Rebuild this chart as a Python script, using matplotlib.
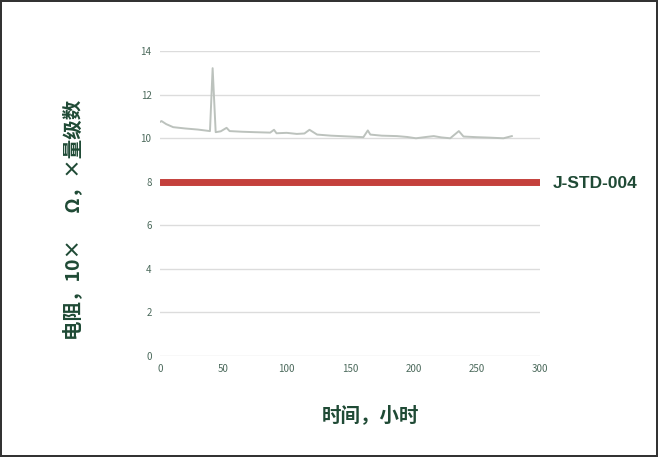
import matplotlib
matplotlib.use('Agg')
import matplotlib.pyplot as plt

plt.rcParams['font.family'] = ['Noto Sans CJK SC', 'DejaVu Sans']

# measured resistance trace (log10 ohm) vs time in hours
hours = [0, 1.3, 5, 10.5, 20, 30, 39.5, 41.6, 44, 48, 52.6, 55, 65, 75, 87, 90, 92, 100, 108,
         114, 118, 124, 135, 150, 160.5, 164, 166, 175, 187, 195, 202, 210, 216, 222, 229,
         235.8, 239.5, 250, 260, 271, 277.6]
resistance = [10.75, 10.79, 10.65, 10.51, 10.45, 10.4, 10.33, 13.22, 10.28, 10.32, 10.48, 10.33,
              10.3, 10.28, 10.26, 10.39, 10.23, 10.25, 10.2, 10.22, 10.39, 10.17, 10.12, 10.08,
              10.05, 10.36, 10.17, 10.12, 10.1, 10.06, 10.0, 10.06, 10.1, 10.04, 10.0, 10.33,
              10.08, 10.05, 10.03, 10.0, 10.1]
limit_x = [0, 300]
limit_y = [8, 8]
limit_label = 'J-STD-004'
xticks = [0, 50, 100, 150, 200, 250, 300]
yticks = [0, 2, 4, 6, 8, 10, 12, 14]

txt = '#1f4a35'
fig = plt.figure(figsize=(6.58, 4.57), dpi=100)
fig.patch.set_edgecolor('#333333')
fig.patch.set_linewidth(1.5)
ax = fig.add_axes([0.243, 0.221, 0.578, 0.667])

ax.plot(limit_x, limit_y, color='#c4403c', lw=5, solid_capstyle='round', zorder=3)
ax.plot(hours, resistance, color='#bcc2bd', lw=1.4, zorder=2)
ax.text(553 / 658, 1 - 183 / 457, limit_label, color=txt, fontsize=12.5, fontweight='bold',
        va='center', ha='left', family='Liberation Sans', transform=fig.transFigure)

ax.set_xlim(0, 300)
ax.set_ylim(0, 14)
ax.set_xticks(xticks)
ax.set_yticks(yticks)
ax.grid(axis='y', color='#dcdcdc', lw=1)
ax.set_axisbelow(True)
for s in ax.spines.values():
    s.set_visible(False)
ax.tick_params(length=0, labelsize=7, labelcolor='#4c6a5c', pad=6)

fig.text(73 / 658, 1 - 220 / 457, '电阻，10×      Ω，×量级数', rotation=90, color=txt,
         fontsize=14, fontweight='bold', ha='center', va='center')
fig.text(370 / 658, 1 - 415 / 457, '时间，小时', color=txt, fontsize=14, fontweight='bold',
         ha='center', va='center')

fig.savefig('out.png', dpi=100)
